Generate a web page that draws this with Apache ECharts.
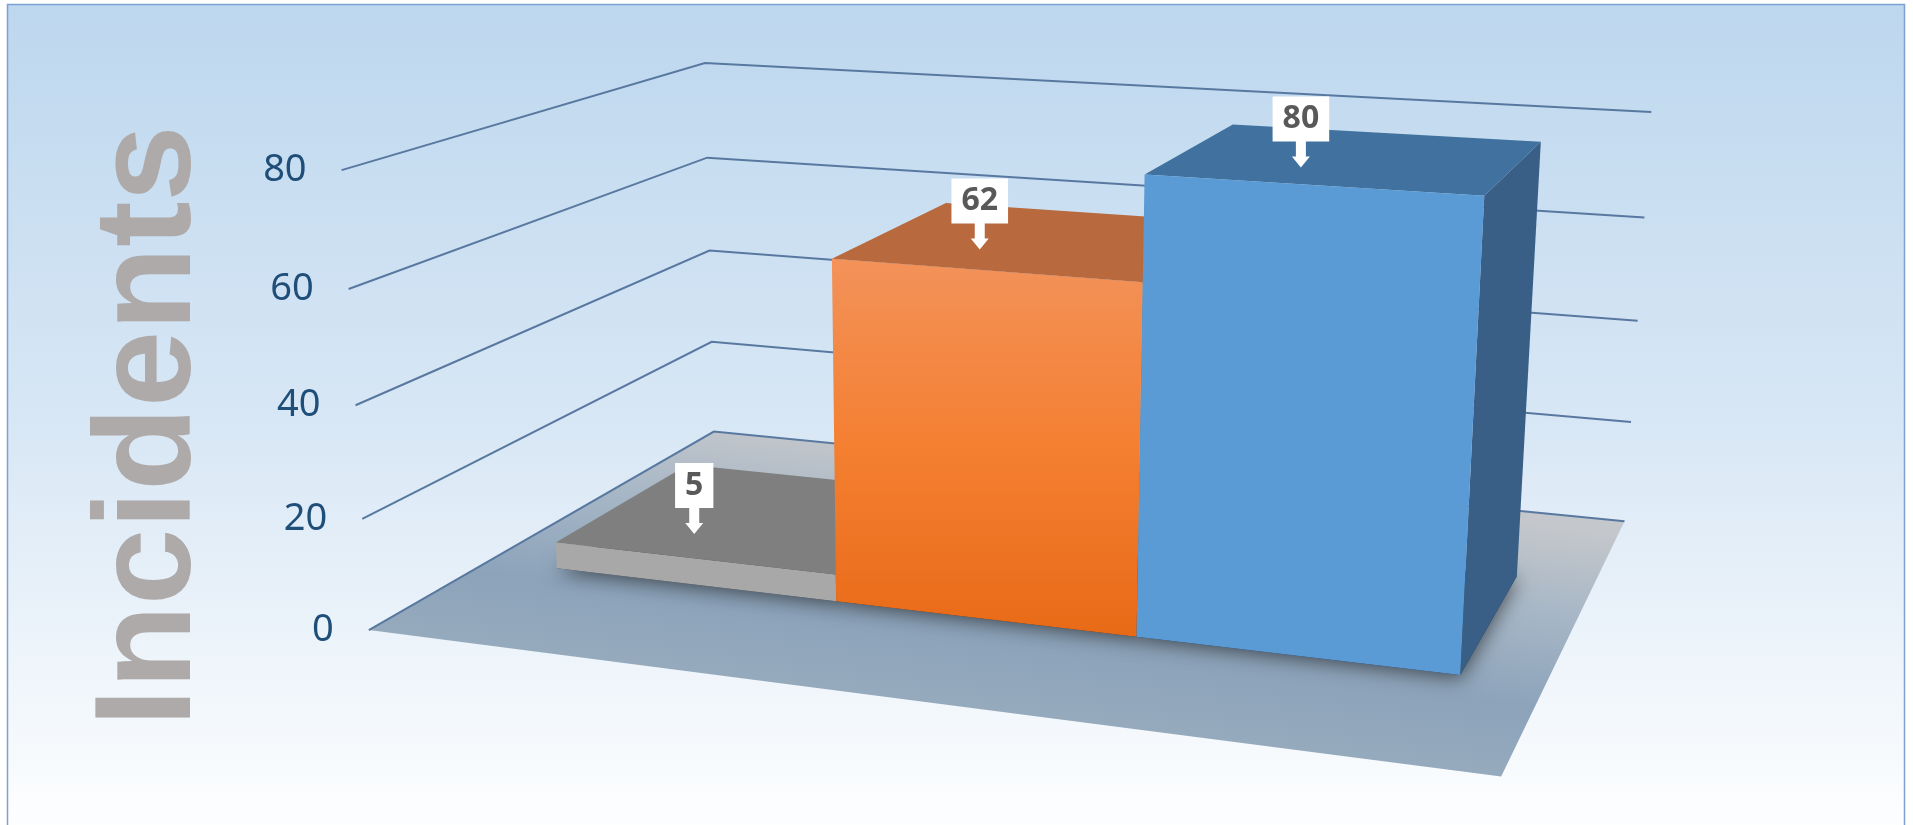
<!DOCTYPE html>
<html><head><meta charset="utf-8">
<script src="https://cdn.jsdelivr.net/npm/echarts@6/dist/echarts.min.js"></script>
<style>html,body{margin:0;padding:0;background:#fff;}#chart{width:1913px;height:825px;}</style>
</head><body><div id="chart"></div>
<script>
// ---------- data ----------
const categories = ['Category 1', 'Category 2', 'Category 3'];
const incidents = [5, 62, 80];
const yTicks = [0, 20, 40, 60, 80];
const yMax = 80;
const yTitle = 'Incidents';

// ---------- layout (3D box anchors: X across, Y up 0..1, Z depth 0 front..1 back) ----------
const ANCHORS = [
  [0, 0, 0, 369, 630], [1, 0, 0, 1501, 777], [0, 0, 1, 715, 431], [1, 0, 1, 1625, 521],
  [0, 1, 0, 342, 170], [0, 1, 1, 706, 63], [1, 1, 1, 1651, 112],
  [0, .25, 0, 364, 519], [0, .5, 0, 354, 405], [0, .75, 0, 348, 289],
  [0, .25, 1, 710, 343], [0, .5, 1, 708, 251], [0, .75, 1, 708, 157],
  [1, .25, 1, 1631, 421], [1, .5, 1, 1637, 321], [1, .75, 1, 1645, 218]
];
const X_MARGIN = 0.0715, Z_FRONT = 0.30, Z_BACK = 0.70;

function solveLinear(M) {
  const n = M.length;
  for (let c = 0; c < n; c++) {
    let p = c;
    for (let r = c + 1; r < n; r++) if (Math.abs(M[r][c]) > Math.abs(M[p][c])) p = r;
    const t = M[c]; M[c] = M[p]; M[p] = t;
    for (let r = 0; r < n; r++) {
      if (r === c) continue;
      const f = M[r][c] / M[c][c];
      for (let k = c; k <= n; k++) M[r][k] -= f * M[c][k];
    }
  }
  return M.map((row, i) => row[n] / row[i]);
}
function buildCamera(pts) {
  const A = [], b = [];
  pts.forEach(([X, Y, Z, u0, v0]) => {
    const u = u0 / 1000, v = v0 / 1000;
    A.push([X, Y, Z, 1, 0, 0, 0, 0, -u * X, -u * Y, -u * Z]); b.push(u);
    A.push([0, 0, 0, 0, X, Y, Z, 1, -v * X, -v * Y, -v * Z]); b.push(v);
  });
  const n = 11, M = [];
  for (let i = 0; i < n; i++) M.push(new Array(n + 1).fill(0));
  for (let r = 0; r < A.length; r++) {
    for (let i = 0; i < n; i++) {
      for (let j = 0; j < n; j++) M[i][j] += A[r][i] * A[r][j];
      M[i][n] += A[r][i] * b[r];
    }
  }
  return solveLinear(M);
}
const CAM = buildCamera(ANCHORS);
function P(X, Y, Z) {
  const p = CAM;
  const w = p[8] * X + p[9] * Y + p[10] * Z + 1;
  return [1000 * (p[0] * X + p[1] * Y + p[2] * Z + p[3]) / w,
          1000 * (p[4] * X + p[5] * Y + p[6] * Z + p[7]) / w];
}
function normY(api, cs, v) {
  const py = api.coord([0, v])[1];
  return (cs.y + cs.height - py) / cs.height;
}
function barX(api, cs, i) {
  const c = api.coord([i, 0])[0];
  const bw = api.size([1, 0])[0];
  const n0 = (c - bw / 2 - cs.x) / cs.width, n1 = (c + bw / 2 - cs.x) / cs.width;
  return [X_MARGIN + n0 * (1 - 2 * X_MARGIN), X_MARGIN + n1 * (1 - 2 * X_MARGIN)];
}

// ---------- styles ----------
const BAR_STYLE = [
  { front: '#A8A8A8', top: '#7F7F7F', side: '#6E6E6E' },
  { front: ['#F3925A', '#F47F31', '#E86A17'], top: '#B8693D', side: '#9E5326' },
  { front: '#5B9BD5', top: '#41729F', side: '#395F86' }
];
const GRID_COLOR = '#5878A0';
const AXIS_FONT = "38px 'Noto Sans', 'Open Sans', sans-serif";

const chart = echarts.init(document.getElementById('chart'), null, { renderer: 'canvas' });

const option = {
  backgroundColor: '#ffffff',
  animation: false,
  grid: { left: 100, right: 100, top: 100, bottom: 100, show: false },
  xAxis: { type: 'category', data: categories, show: false },
  yAxis: { type: 'value', min: 0, max: yMax, interval: 20, show: false },
  graphic: [
    {
      type: 'rect', z: -10, silent: true,
      shape: { x: 7.5, y: 4.5, width: 1897, height: 840 },
      style: {
        fill: new echarts.graphic.LinearGradient(0, 0, 0, 1, [
          { offset: 0, color: '#BDD7EE' }, { offset: 0.5, color: '#D8E7F5' }, { offset: 1, color: '#FFFFFF' }
        ]),
        stroke: '#7EA0D3', lineWidth: 1.5
      }
    },
    {
      type: 'text', z: 10, x: 152, y: 426, rotation: Math.PI / 2, silent: true,
      style: {
        text: yTitle, align: 'center', verticalAlign: 'middle',
        font: "bold 137px 'Liberation Sans', Arial, sans-serif", fill: '#AEAAAA'
      }
    }
  ],
  series: [
    { // floor
      type: 'custom', z: 1, silent: true,
      data: [[0, 0]],
      renderItem: function (params, api) {
        const FL = P(0, 0, 0), FR = P(1, 0, 0), BR = P(1, 0, 1), BL = P(0, 0, 1);
        const S = P(0.5, 0, 1);
        let fx = FR[0] - FL[0], fy = FR[1] - FL[1];
        const fl = Math.hypot(fx, fy); fx /= fl; fy /= fl;
        const nx = -fy, ny = fx;
        const d = (FL[0] - S[0]) * nx + (FL[1] - S[1]) * ny;
        const E = [S[0] + nx * d, S[1] + ny * d];
        return {
          type: 'polygon',
          shape: { points: [FL, FR, BR, BL] },
          style: {
            fill: new echarts.graphic.LinearGradient(S[0], S[1], E[0], E[1], [
              { offset: 0, color: '#C4C7CB' }, { offset: 0.35, color: '#A6B6C6' },
              { offset: 0.72, color: '#8CA3BA' }, { offset: 1, color: '#96AABD' }
            ], true)
          }
        };
      }
    },
    { // gridlines + tick labels
      type: 'custom', z: 2, silent: true,
      data: yTicks.map(t => [0, t]),
      renderItem: function (params, api) {
        const cs = params.coordSys;
        const t = api.value(1);
        const Y = normY(api, cs, t);
        const a = P(0, Y, 0), b = P(0, Y, 1), c = P(1, Y, 1);
        return {
          type: 'group',
          children: [
            { type: 'polyline', shape: { points: [a, b, c] }, style: { stroke: GRID_COLOR, lineWidth: 2, fill: null } },
            { type: 'text', x: a[0] - 35, y: a[1],
              style: { text: String(t), align: 'right', verticalAlign: 'middle', font: AXIS_FONT, fill: '#1F4E79' } }
          ]
        };
      }
    },
    { // base shadows
      type: 'custom', z: 3, silent: true,
      data: incidents.map((v, i) => [i, v]),
      renderItem: function (params, api) {
        const cs = params.coordSys;
        const [x0, x1] = barX(api, cs, api.value(0));
        return {
          type: 'polygon',
          shape: { points: [P(x0, 0, Z_FRONT), P(x1, 0, Z_FRONT), P(x1, 0, Z_BACK), P(x0, 0, Z_BACK)] },
          style: { fill: 'rgba(30,40,55,0.85)', shadowBlur: 20, shadowColor: 'rgba(0,0,0,0.7)', shadowOffsetY: 3 }
        };
      }
    },
    { // bars
      type: 'custom', z: 4, silent: true,
      data: incidents.map((v, i) => [i, v]),
      renderItem: function (params, api) {
        const cs = params.coordSys;
        const i = api.value(0);
        const Y = normY(api, cs, api.value(1));
        const [x0, x1] = barX(api, cs, i);
        const st = BAR_STYLE[i];
        const frontFill = Array.isArray(st.front)
          ? new echarts.graphic.LinearGradient(0, 0, 0, 1, [
              { offset: 0, color: st.front[0] }, { offset: 0.5, color: st.front[1] }, { offset: 1, color: st.front[2] }])
          : st.front;
        return {
          type: 'group',
          children: [
            { type: 'polygon', shape: { points: [P(x1, 0, Z_FRONT), P(x1, 0, Z_BACK), P(x1, Y, Z_BACK), P(x1, Y, Z_FRONT)] },
              style: { fill: st.side } },
            { type: 'polygon', shape: { points: [P(x0, Y, Z_FRONT), P(x1, Y, Z_FRONT), P(x1, Y, Z_BACK), P(x0, Y, Z_BACK)] },
              style: { fill: st.top } },
            { type: 'polygon', shape: { points: [P(x0, 0, Z_FRONT), P(x1, 0, Z_FRONT), P(x1, Y, Z_FRONT), P(x0, Y, Z_FRONT)] },
              style: { fill: frontFill } }
          ]
        };
      }
    },
    { // data label callouts
      type: 'custom', z: 5, silent: true,
      data: incidents.map((v, i) => [i, v]),
      renderItem: function (params, api) {
        const cs = params.coordSys;
        const i = api.value(0), v = api.value(1);
        const Y = normY(api, cs, v);
        const [x0, x1] = barX(api, cs, i);
        const xc = (x0 + x1) / 2;
        const a = P(x0, Y, Z_FRONT), b = P(x1, Y, Z_FRONT);
        const tx = (a[0] + b[0]) / 2 - 21 * (xc - 0.14);
        const ty = (a[1] + b[1]) / 2 - 27 + 12 * xc;
        return {
          type: 'group',
          children: [
            { type: 'polygon', shape: { points: [
                [tx - 5, ty - 27], [tx + 5, ty - 27], [tx + 5, ty - 11], [tx + 9, ty - 11],
                [tx, ty], [tx - 9, ty - 11], [tx - 5, ty - 11]] },
              style: { fill: '#FFFFFF' } },
            { type: 'text', x: tx, y: ty - 26,
              style: { text: String(v), align: 'center', verticalAlign: 'bottom',
                font: "bold 32px 'Noto Sans', 'Open Sans', sans-serif", fill: '#595959',
                backgroundColor: '#FFFFFF', padding: [7, 10, 7, 10], lineHeight: 31 } }
          ]
        };
      }
    }
  ]
};
chart.setOption(option);
</script>
</body></html>
